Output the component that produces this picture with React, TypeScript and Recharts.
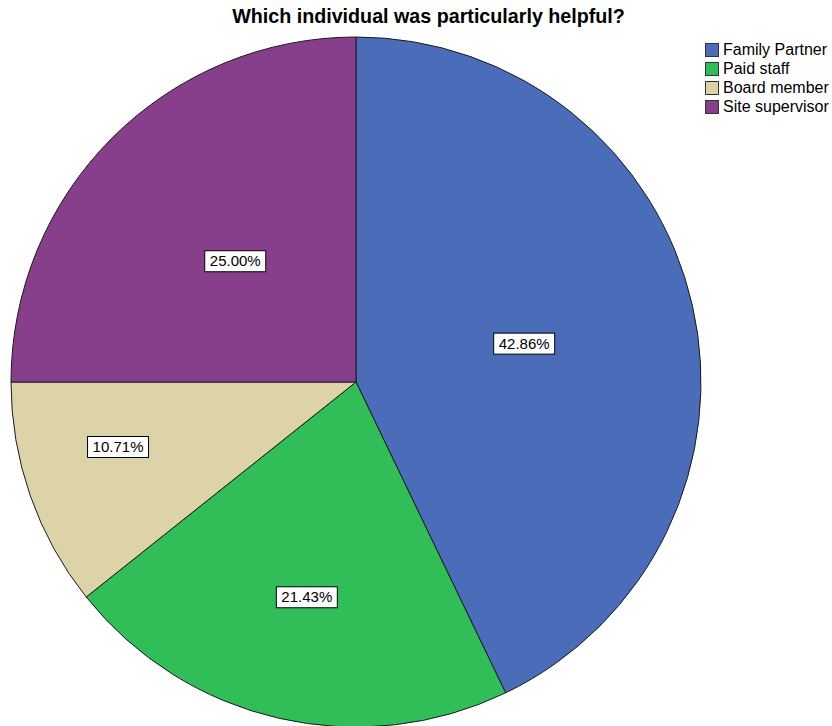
import React from 'react';
import { PieChart, Pie, Cell, Legend } from 'recharts';

const categories = ['Family Partner', 'Paid staff', 'Board member', 'Site supervisor'];
const percents = [42.86, 21.43, 10.71, 25.0];
const colors = ['#4b6cb8', '#31bd58', '#dcd4a8', '#873f8c'];
const labelRadiusFrac = [0.5, 0.64, 0.715, 0.495];
const labelAngleShift = [0, 0, -4, 0];

const data = categories.map((name, i) => ({ name, value: percents[i] }));

const RADIAN = Math.PI / 180;

const renderLabel = (props: any) => {
  const { cx, cy, midAngle, outerRadius, index, value } = props;
  const r = outerRadius * labelRadiusFrac[index];
  const a = midAngle + labelAngleShift[index];
  const x = cx + r * Math.cos(-a * RADIAN);
  const y = cy + r * Math.sin(-a * RADIAN);
  const w = 61;
  const h = 21;
  return (
    <g>
      <rect x={x - w / 2} y={y - h / 2} width={w} height={h} fill="#ffffff" stroke="#000000" strokeWidth={1} />
      <text x={x} y={y + 5} textAnchor="middle" fontSize={15} fontFamily="'Liberation Sans', Arial, sans-serif" fill="#000">
        {value.toFixed(2)}%
      </text>
    </g>
  );
};

const renderLegend = () => (
  <div style={{ fontFamily: "'Liberation Sans', Arial, sans-serif", fontSize: 16, color: '#000', whiteSpace: 'nowrap' }}>
    {categories.map((c, i) => (
      <div key={c} style={{ display: 'flex', alignItems: 'center', height: 19 }}>
        <span style={{ display: 'inline-block', width: 12, height: 12, background: colors[i], border: '1px solid #333', marginRight: 4 }} />
        <span>{c}</span>
      </div>
    ))}
  </div>
);

export default function App() {
  return (
    <div style={{ position: 'absolute', left: 0, top: 0, width: 832, height: 726, overflow: 'hidden', background: '#fff' }}>
      <div style={{ position: 'absolute', left: 0, top: 5, width: 857, textAlign: 'center', fontFamily: "'Liberation Sans', Arial, sans-serif", fontWeight: 'bold', fontSize: 19.7, color: '#000' }}>
        Which individual was particularly helpful?
      </div>
      <PieChart width={832} height={726} margin={{ top: 0, right: 0, bottom: 0, left: 0 }}>
        <Pie
          data={data}
          dataKey="value"
          nameKey="name"
          cx={356}
          cy={382}
          outerRadius={345}
          startAngle={90}
          endAngle={-270}
          stroke="#1a1a1a"
          strokeWidth={1}
          label={renderLabel}
          labelLine={false}
          isAnimationActive={false}
        >
          {data.map((d, i) => (
            <Cell key={d.name} fill={colors[i]} />
          ))}
        </Pie>
        <Legend content={renderLegend} layout="vertical" verticalAlign="top" align="right" wrapperStyle={{ position: 'absolute', left: 705, top: 40, width: 130 }} />
      </PieChart>
    </div>
  );
}
